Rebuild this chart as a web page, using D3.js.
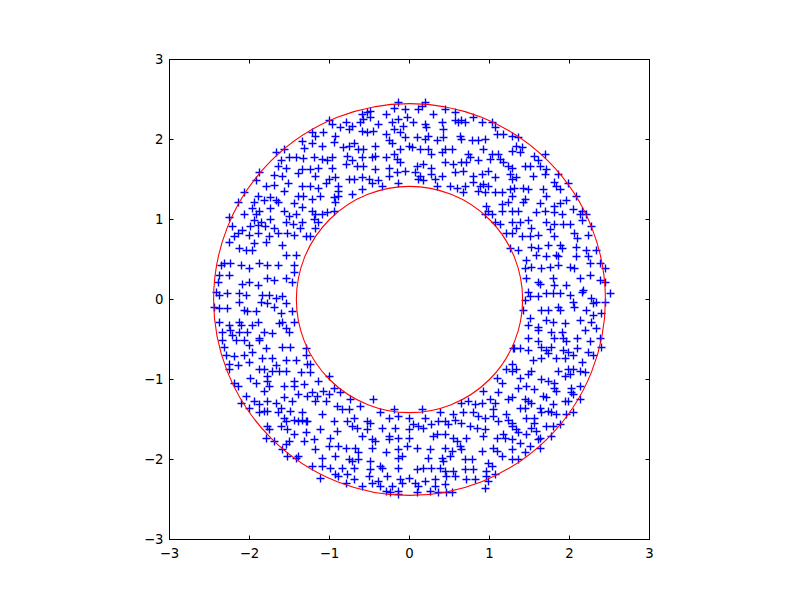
<!DOCTYPE html>
<html>
<head>
<meta charset="utf-8">
<script src="https://cdn.jsdelivr.net/npm/d3@7/dist/d3.min.js"></script>
<style>
  body { margin: 0; background: #fff; }
  svg text { font-family: "DejaVu Sans", sans-serif; font-size: 13.3px; }
</style>
</head>
<body>
<svg id="chart" width="800" height="600"></svg>
<script>
// tick values on both axes
var tickValues = [-3, -2, -1, 0, 1, 2, 3];

// radii of the two red rings
var ringRadii = [1.414, 2.449];

// points, [x, y]
var points = [
  // upper left
  [-1.34,1.98],[-1.32,1.89],[-1.33,1.77],[-1.675,1.85],[-1.57,1.88],[-1.51,1.78],[-1.42,1.78],[-1.61,1.74],[-1.65,1.67],[-1.55,1.64],
  [-1.59,1.54],[-1.70,1.56],[-1.88,1.60],[-1.925,1.50],[-1.80,1.42],[-1.70,1.43],[-1.52,1.45],[-1.40,1.58],[-1.34,1.63],[-1.34,1.42],
  [-2.07,1.35],[-1.90,1.30],[-1.82,1.24],[-1.74,1.28],[-1.67,1.25],[-1.57,1.36],[-1.40,1.30],[-1.33,1.30],[-1.45,1.20],[-2.15,1.22],
  [-1.95,1.22],[-1.97,1.14],[-1.88,1.11],[-1.925,1.07],[-1.74,1.14],[-1.65,1.225],[-1.57,1.11],[-1.51,1.05],[-1.425,1.07],[-1.34,1.15],
  [-2.26,1.03],[-2.07,1.07],[-1.86,0.975],[-1.95,0.99],[-1.74,1.01],[-1.55,0.975],[-1.34,0.975],[-2.22,0.925],[-2.09,0.875],[-1.99,0.925],
  [-1.90,0.93],[-1.81,0.92],[-1.70,0.89],[-1.46,0.95],[-1.375,0.89],
  // upper middle left
  [-0.14,2.47],[-0.20,2.40],[-0.055,2.38],[-0.49,2.36],[-0.53,2.34],[-0.60,2.32],[-0.58,2.26],[-0.30,2.32],[-0.14,2.26],[-0.03,2.28],
  [-0.22,2.22],[-0.075,2.175],[-1.01,2.24],[-0.97,2.20],[-0.80,2.22],[-0.72,2.175],[-0.87,2.15],[-0.76,2.13],[-0.62,2.22],[-0.49,2.28],
  [-0.39,2.20],[-1.22,2.09],[-1.18,2.05],[-1.08,2.09],[-0.93,2.05],[-0.60,2.11],[-0.53,2.09],[-0.45,2.11],[-0.30,2.07],[-0.20,2.13],
  [-0.12,2.09],[-0.055,2.03],[-1.22,1.95],[-1.10,1.925],[-0.95,1.97],[-0.83,1.90],[-0.76,1.925],[-0.70,1.95],[-0.64,1.88],[-0.58,1.88],
  [-0.43,1.925],[-0.26,1.99],[-0.22,1.95],[-0.12,1.88],[-0.01,1.925],[-1.20,1.78],[-1.10,1.76],[-1.03,1.74],[-0.97,1.78],[-0.78,1.80],
  [-0.72,1.74],[-0.60,1.78],[-0.47,1.78],[-0.43,1.80],[-0.30,1.78],[-0.20,1.82],[-0.16,1.76],[-0.12,1.72],[-1.24,1.63],[-1.14,1.65],
  [-0.97,1.65],[-0.80,1.70],[-0.66,1.675],[-0.58,1.675],[-0.43,1.63],[-0.26,1.65],[-0.16,1.59],[-0.055,1.61],[-1.18,1.55],[-1.01,1.51],
  [-0.93,1.53],[-0.76,1.51],[-0.70,1.51],[-0.60,1.53],[-0.51,1.51],[-0.39,1.49],[-0.26,1.55],[-1.24,1.425],[-1.14,1.40],[-1.05,1.45],
  [-0.89,1.425],[-0.89,1.36],[-0.72,1.32],[-0.60,1.38],[-0.47,1.45],[-0.35,1.425],[-0.14,1.45],[-1.22,1.26],[-1.12,1.30],[-0.95,1.28],
  [-0.93,1.22],[-0.89,1.30],[-1.22,1.11],[-1.18,1.07],[-1.10,1.07],[-1.03,1.09],[-0.95,1.11],[-1.20,1.01],[-1.14,0.97],[-1.18,0.90],
  // upper middle right
  [0.19,2.47],[0.15,2.425],[0.11,2.38],[0.295,2.32],[0.44,2.38],[0.565,2.34],[0.65,2.24],[0.69,2.22],[0.795,2.28],[0.90,2.22],
  [0.045,2.22],[0.19,2.20],[0.21,2.15],[0.40,2.22],[0.42,2.13],[0.565,2.24],[0.61,2.22],[1.025,2.22],[1.065,2.15],[1.09,2.07],
  [1.17,2.07],[1.275,2.05],[0.09,2.03],[0.23,2.05],[0.19,2.01],[0.34,1.99],[0.42,2.03],[0.63,2.05],[0.65,2.01],[0.775,1.99],
  [0.86,1.99],[0.94,2.01],[0.025,1.905],[0.13,1.88],[0.23,1.88],[0.275,1.82],[0.40,1.84],[0.44,1.88],[0.525,1.88],[0.735,1.82],
  [0.755,1.78],[0.92,1.88],[1.025,1.82],[1.11,1.82],[1.13,1.76],[1.275,1.86],[0.09,1.675],[0.17,1.70],[0.275,1.65],[0.44,1.72],
  [0.545,1.70],[0.65,1.72],[0.71,1.72],[0.86,1.74],[1.005,1.76],[1.17,1.72],[1.235,1.675],[1.275,1.65],[0.065,1.59],[0.13,1.55],
  [0.275,1.57],[0.40,1.55],[0.565,1.59],[0.67,1.61],[0.795,1.55],[0.90,1.57],[0.985,1.61],[1.065,1.53],[1.255,1.57],[0.11,1.51],
  [0.17,1.49],[0.315,1.51],[0.34,1.425],[0.505,1.425],[0.59,1.40],[0.69,1.425],[0.795,1.47],[0.88,1.425],[0.92,1.445],[0.985,1.425],
  [1.275,1.51],[0.67,1.34],[0.86,1.36],[0.94,1.34],[1.065,1.34],[1.15,1.34],[1.255,1.38],[1.275,1.30],[0.96,1.175],[1.15,1.195],
  [1.235,1.22],[0.985,1.11],[0.94,1.07],[1.025,1.07],[1.15,1.11],[1.275,1.11],[1.065,0.97],[1.13,0.95],[1.275,0.97],
  // upper right
  [1.355,2.03],[1.33,1.925],[1.40,1.90],[1.375,1.84],[1.69,1.82],[1.56,1.80],[1.60,1.74],[1.625,1.675],[1.44,1.675],[1.50,1.675],
  [1.71,1.63],[1.69,1.57],[1.85,1.57],[1.54,1.55],[1.33,1.53],[1.81,1.47],[1.83,1.425],[1.98,1.45],[1.875,1.38],[1.31,1.40],
  [1.42,1.40],[1.48,1.38],[1.67,1.38],[1.71,1.30],[2.08,1.30],[1.44,1.26],[1.42,1.22],[1.625,1.20],[1.81,1.175],[1.875,1.20],
  [1.96,1.24],[2.04,1.13],[2.15,1.11],[1.355,1.11],[1.58,1.09],[1.69,1.11],[1.81,1.09],[1.90,1.07],[2.125,1.07],[2.21,1.07],
  [1.375,0.97],[1.48,0.99],[1.71,0.97],[1.81,0.95],[1.92,0.95],[2.00,0.95],[2.15,0.99],[2.27,0.925],[1.75,0.88],[1.52,0.90],
  [1.33,0.90],
  // middle left
  [-2.15,0.83],[-2.20,0.79],[-2.01,0.81],[-1.90,0.83],[-1.76,0.79],[-1.65,0.83],[-1.53,0.83],[-1.45,0.81],[-1.30,0.79],[-2.26,0.725],
  [-2.13,0.64],[-2.05,0.62],[-1.95,0.70],[-1.97,0.62],[-1.80,0.725],[-1.59,0.68],[-1.55,0.56],[-1.425,0.56],[-2.32,0.455],[-2.36,0.435],
  [-2.24,0.455],[-2.11,0.435],[-2.01,0.39],[-1.88,0.455],[-1.78,0.435],[-1.65,0.435],[-1.45,0.435],[-1.45,0.35],[-2.38,0.31],[-2.26,0.31],
  [-2.40,0.225],[-2.09,0.20],[-2.01,0.225],[-1.90,0.18],[-1.78,0.27],[-1.70,0.25],[-1.55,0.27],[-1.47,0.225],[-2.425,0.10],[-2.38,0.06],
  [-2.28,0.08],[-2.13,0.08],[-2.13,-0.025],[-2.05,0.06],[-1.84,0.06],[-1.76,0.06],[-1.675,0.017],[-1.86,-0.025],[-1.78,-0.045],[-1.55,-0.045],
  [-1.59,0.04],[-2.45,-0.09],[-2.38,-0.11],[-2.28,-0.11],[-2.07,-0.13],[-2.03,-0.15],[-1.925,-0.15],[-1.70,-0.09],[-1.61,-0.17],[-1.47,-0.15],
  [-2.38,-0.275],[-2.26,-0.315],[-2.13,-0.275],[-2.11,-0.315],[-1.97,-0.315],[-1.90,-0.275],[-1.63,-0.295],[-1.59,-0.275],[-1.55,-0.36],[-1.45,-0.275],
  [-2.34,-0.40],[-2.24,-0.38],[-2.22,-0.44],[-2.13,-0.40],[-2.03,-0.40],[-1.88,-0.48],[-1.82,-0.40],[-1.72,-0.42],[-1.51,-0.40],[-2.34,-0.50],
  [-2.32,-0.59],[-2.175,-0.50],[-2.07,-0.50],[-2.01,-0.57],[-1.88,-0.50],[-1.80,-0.61],[-1.59,-0.59],[-1.49,-0.59],[-1.30,-0.61],[-2.30,-0.69],
  [-2.20,-0.71],[-2.07,-0.69],[-1.97,-0.65],[-1.84,-0.73],[-1.72,-0.73],[-1.55,-0.75],[-1.425,-0.75],[-1.30,-0.69],[-1.28,-0.80],[-2.26,-0.80],
  [-2.15,-0.82],[-2.01,-0.775],[-1.675,-0.82],[-1.24,0.79],[-1.24,-0.80],
  // middle right
  [1.21,0.83],[1.275,0.83],[1.25,0.65],[1.295,-0.61],[1.275,-0.80],
  [1.40,0.79],[1.50,0.79],[1.60,0.81],[1.81,0.79],[2.06,0.83],[2.10,0.77],[2.23,0.81],[1.355,0.62],[1.52,0.66],[1.60,0.64],
  [1.73,0.68],[1.875,0.68],[1.90,0.64],[2.08,0.66],[2.21,0.62],[2.33,0.62],[1.46,0.50],[1.58,0.56],[1.71,0.54],[1.83,0.56],
  [1.85,0.54],[2.08,0.54],[2.23,0.54],[2.375,0.455],[1.44,0.39],[1.52,0.41],[1.645,0.39],[1.75,0.41],[1.85,0.435],[2.00,0.41],
  [2.06,0.39],[2.25,0.455],[2.44,0.39],[1.46,0.27],[1.60,0.225],[1.625,0.20],[1.79,0.27],[1.81,0.18],[1.96,0.18],[2.125,0.27],
  [2.25,0.31],[2.375,0.25],[2.44,0.225],[1.48,0.10],[1.71,0.08],[1.79,0.08],[1.875,0.08],[2.00,0.06],[2.15,0.10],[2.17,0.12],
  [2.50,0.08],[1.44,-0.004],[1.50,0.04],[1.60,0.04],[2.27,0.017],[2.33,-0.025],[2.44,-0.025],[1.42,-0.13],[1.645,-0.13],[1.73,-0.13],
  [1.85,-0.09],[1.875,-0.13],[2.04,-0.025],[2.06,-0.09],[2.21,-0.13],[2.29,-0.045],[2.395,-0.17],[1.50,-0.23],[1.71,-0.25],[1.79,-0.275],
  [1.94,-0.295],[2.125,-0.25],[2.29,-0.19],[2.27,-0.275],[1.48,-0.315],[1.60,-0.34],[1.60,-0.38],[1.77,-0.40],[1.90,-0.40],[2.19,-0.38],
  [2.33,-0.36],[1.48,-0.48],[1.60,-0.525],[1.81,-0.48],[1.92,-0.48],[1.96,-0.525],[2.10,-0.48],[2.25,-0.525],[2.375,-0.48],[1.31,-0.61],
  [1.375,-0.61],[1.48,-0.63],[1.645,-0.59],[1.71,-0.63],[1.77,-0.59],[1.92,-0.63],[1.98,-0.65],[2.10,-0.61],[2.23,-0.65],[2.395,-0.59],
  [1.54,-0.75],[1.645,-0.73],[1.73,-0.67],[1.83,-0.73],[1.94,-0.73],[2.04,-0.69],[2.15,-0.775],[2.29,-0.69],
  // lower left
  [-2.26,-0.87],[-1.88,-0.87],[-1.82,-0.87],[-1.72,-0.89],[-1.63,-0.89],[-1.55,-0.89],[-1.36,-0.91],[-2.20,-1.04],[-2.15,-1.08],[-1.99,-0.975],
  [-1.925,-1.04],[-1.78,-0.95],[-1.78,-1.015],[-1.76,-1.08],[-1.57,-1.08],[-1.45,-1.015],[-1.45,-1.08],[-1.32,-1.06],[-2.05,-1.20],[-1.82,-1.14],
  [-1.78,-1.27],[-1.675,-1.29],[-1.57,-1.225],[-1.47,-1.27],[-1.40,-1.18],[-1.28,-1.20],[-2.11,-1.29],[-2.01,-1.35],[-1.95,-1.27],[-1.88,-1.31],
  [-1.82,-1.39],[-1.88,-1.41],[-1.78,-1.39],[-1.61,-1.35],[-1.49,-1.39],[-1.65,-1.41],[-1.34,-1.41],[-1.30,-1.52],[-1.57,-1.475],[-1.55,-1.52],
  [-1.45,-1.50],[-1.40,-1.52],[-1.34,-1.50],[-1.28,-1.52],[-1.78,-1.58],[-1.76,-1.62],[-1.61,-1.58],[-1.53,-1.62],[-1.45,-1.68],[-1.30,-1.66],
  [-1.80,-1.725],[-1.70,-1.77],[-1.51,-1.77],[-1.55,-1.81],[-1.32,-1.77],[-1.59,-1.87],[-1.53,-1.95],[-1.40,-1.95],[-1.425,-1.975],
  // lower middle left
  [-1.24,-0.91],[-1.14,-1.015],[-1.01,-0.95],[-1.22,-1.16],[-1.16,-1.20],[-1.08,-1.14],[-1.01,-1.18],[-0.95,-1.10],[-0.87,-1.16],[-1.18,-1.27],
  [-1.05,-1.27],[-0.91,-1.33],[-0.85,-1.37],[-0.76,-1.37],[-0.74,-1.245],[-0.45,-1.245],[-0.62,-1.33],[-0.37,-1.41],[-0.20,-1.37],[-1.10,-1.43],
  [-0.95,-1.52],[-0.78,-1.52],[-0.70,-1.475],[-0.53,-1.52],[-0.49,-1.54],[-0.26,-1.475],[-0.14,-1.45],[-0.01,-1.475],[-1.12,-1.62],[-0.91,-1.64],
  [-0.72,-1.58],[-0.66,-1.60],[-0.53,-1.62],[-0.35,-1.60],[-0.18,-1.60],[-0.01,-1.62],[-1.20,-1.745],[-0.99,-1.725],[-0.60,-1.70],[-0.47,-1.745],
  [-0.43,-1.77],[-0.26,-1.70],[-0.26,-1.745],[-0.14,-1.725],[-0.01,-1.725],[-1.18,-1.87],[-1.01,-1.83],[-0.89,-1.83],[-0.80,-1.85],[-0.68,-1.85],
  [-0.64,-1.91],[-0.47,-1.85],[-0.30,-1.91],[-0.14,-1.87],[-0.03,-1.83],[-1.10,-1.975],[-0.93,-1.95],[-0.76,-1.995],[-0.72,-2.02],[-0.64,-1.995],
  [-0.49,-2.02],[-0.37,-2.08],[-0.14,-1.975],[-0.10,-1.95],[-1.22,-2.08],[-1.10,-2.08],[-0.99,-2.10],[-0.85,-2.10],[-0.70,-2.10],[-0.49,-2.12],
  [-0.35,-2.10],[-0.14,-2.10],[-1.12,-2.225],[-0.93,-2.18],[-0.89,-2.20],[-0.78,-2.18],[-0.70,-2.245],[-0.51,-2.20],[-0.39,-2.27],[-0.28,-2.20],
  [-0.12,-2.245],[-0.01,-2.225],[-0.80,-2.29],[-0.60,-2.33],[-0.47,-2.29],[-0.37,-2.33],[-0.22,-2.33],[-0.14,-2.39],[-0.10,-2.29],[-0.30,-2.39],
  [-0.24,-2.41],[-0.14,-2.43],
  // lower middle right
  [1.21,-0.87],[1.275,-0.89],[1.09,-0.975],[1.15,-1.04],[0.92,-1.14],[1.11,-1.16],[1.005,-1.245],[1.065,-1.29],[1.235,-1.245],[1.275,-1.225],
  [0.65,-1.29],[0.735,-1.27],[0.815,-1.31],[0.90,-1.29],[1.045,-1.37],[0.15,-1.37],[0.19,-1.475],[0.38,-1.41],[0.545,-1.43],[0.565,-1.50],
  [0.67,-1.41],[0.795,-1.41],[0.86,-1.45],[0.94,-1.475],[1.045,-1.45],[1.11,-1.52],[1.21,-1.43],[1.235,-1.50],[1.275,-1.54],[0.045,-1.56],
  [0.11,-1.58],[0.17,-1.60],[0.275,-1.56],[0.36,-1.52],[0.44,-1.52],[0.48,-1.56],[0.65,-1.54],[0.755,-1.58],[0.84,-1.60],[0.94,-1.62],
  [1.275,-1.58],[0.295,-1.70],[0.34,-1.68],[0.44,-1.68],[0.545,-1.725],[0.59,-1.77],[0.71,-1.725],[0.92,-1.70],[1.09,-1.725],[1.17,-1.68],
  [1.19,-1.725],[1.275,-1.745],[0.09,-1.85],[0.255,-1.87],[0.44,-1.85],[0.525,-1.89],[0.63,-1.83],[0.65,-1.87],[0.90,-1.89],[1.045,-1.85],
  [1.09,-1.89],[1.15,-1.95],[1.275,-1.87],[0.23,-1.975],[0.40,-1.975],[0.42,-2.02],[0.505,-1.95],[0.69,-1.995],[0.775,-1.995],[0.985,-2.04],
  [1.025,-2.08],[1.275,-1.995],[0.09,-2.12],[0.17,-2.10],[0.275,-2.10],[0.38,-2.10],[0.44,-2.14],[0.545,-2.14],[0.69,-2.12],[0.795,-2.12],
  [0.96,-2.14],[1.065,-2.18],[0.065,-2.29],[0.19,-2.27],[0.315,-2.245],[0.46,-2.20],[0.565,-2.20],[0.71,-2.245],[0.815,-2.245],[0.96,-2.20],
  [0.985,-2.27],[0.11,-2.33],[0.315,-2.33],[0.44,-2.31],[0.94,-2.35],[0.09,-2.41],[0.255,-2.39],[0.36,-2.41],[0.46,-2.41],[0.525,-2.41],
  // lower right
  [1.33,-0.87],[1.375,-0.975],[1.48,-0.935],[1.52,-0.89],[1.645,-0.995],[1.73,-1.015],[1.81,-1.04],[1.85,-0.89],[1.94,-0.955],[1.98,-0.87],
  [2.04,-0.87],[2.00,-0.935],[2.125,-0.89],[2.19,-0.91],[1.355,-1.10],[1.46,-1.08],[1.56,-1.12],[1.67,-1.20],[1.71,-1.225],[1.81,-1.10],
  [1.83,-1.14],[2.02,-1.10],[2.02,-1.16],[2.04,-1.18],[2.125,-1.08],[1.94,-1.27],[1.98,-1.27],[2.125,-1.245],[1.375,-1.35],[1.44,-1.245],
  [1.48,-1.27],[1.52,-1.29],[1.44,-1.35],[1.625,-1.35],[1.645,-1.41],[1.73,-1.39],[1.77,-1.41],[1.83,-1.43],[1.79,-1.31],[1.96,-1.43],
  [2.04,-1.41],[1.46,-1.475],[1.56,-1.475],[1.56,-1.54],[1.71,-1.58],[1.79,-1.58],[1.875,-1.56],[1.33,-1.62],[1.355,-1.66],[1.46,-1.68],
  [1.52,-1.60],[1.58,-1.64],[1.625,-1.725],[1.60,-1.745],[1.77,-1.70],[1.375,-1.79],[1.50,-1.83],[1.625,-1.85],[1.44,-1.91],[1.355,-1.995]
];

var svg = d3.select("#chart");

var plotLeft = 169.5, plotRight = 649.5, plotTop = 59.5, plotBottom = 539.5;

var x = d3.scaleLinear().domain([-3, 3]).range([plotLeft, plotRight]);
var y = d3.scaleLinear().domain([-3, 3]).range([plotBottom, plotTop]);

var fmt = function (d) {
    return d < 0 ? "\u2212" + Math.abs(d) : String(d);
};

svg.append("defs").append("clipPath")
    .attr("id", "clip")
    .append("rect")
    .attr("x", plotLeft).attr("y", plotTop)
    .attr("width", plotRight - plotLeft).attr("height", plotBottom - plotTop);

var plot = svg.append("g").attr("clip-path", "url(#clip)");

// blue + markers, centred on pixel centres
var half = 4;
plot.append("g")
    .selectAll("path")
    .data(points)
    .enter().append("path")
    .attr("transform", function (d) {
        return "translate(" + (Math.round(x(d[0])) + 0.5) + "," + (Math.round(y(d[1])) + 0.5) + ")";
    })
    .attr("d", "M" + (-half) + ",0H" + half + "M0," + (-half) + "V" + half)
    .attr("stroke", "#0000ff")
    .attr("stroke-width", 1.4)
    .attr("fill", "none");

// red rings
plot.append("g")
    .selectAll("circle")
    .data(ringRadii)
    .enter().append("circle")
    .attr("cx", x(0))
    .attr("cy", y(0))
    .attr("r", function (d) { return x(d) - x(0); })
    .attr("fill", "none")
    .attr("stroke", "#ff0000")
    .attr("stroke-width", 1.1);

// frame
svg.append("rect")
    .attr("x", plotLeft).attr("y", plotTop)
    .attr("width", plotRight - plotLeft).attr("height", plotBottom - plotTop)
    .attr("fill", "none")
    .attr("stroke", "#000")
    .attr("stroke-width", 1);

// ticks, pointing inward on all four sides
var ticks = svg.append("g").attr("stroke", "#000").attr("stroke-width", 1);
tickValues.forEach(function (t) {
    ticks.append("line").attr("x1", x(t)).attr("x2", x(t)).attr("y1", plotBottom).attr("y2", plotBottom - 4);
    ticks.append("line").attr("x1", x(t)).attr("x2", x(t)).attr("y1", plotTop).attr("y2", plotTop + 4);
    ticks.append("line").attr("y1", y(t)).attr("y2", y(t)).attr("x1", plotLeft).attr("x2", plotLeft + 4);
    ticks.append("line").attr("y1", y(t)).attr("y2", y(t)).attr("x1", plotRight).attr("x2", plotRight - 4);
});

svg.append("g")
    .selectAll("text")
    .data(tickValues)
    .enter().append("text")
    .attr("x", function (d) { return x(d); })
    .attr("y", plotBottom + 18)
    .attr("text-anchor", "middle")
    .text(fmt);

svg.append("g")
    .selectAll("text")
    .data(tickValues)
    .enter().append("text")
    .attr("x", plotLeft - 6)
    .attr("y", function (d) { return y(d); })
    .attr("dy", "0.35em")
    .attr("text-anchor", "end")
    .text(fmt);
</script>
</body>
</html>
